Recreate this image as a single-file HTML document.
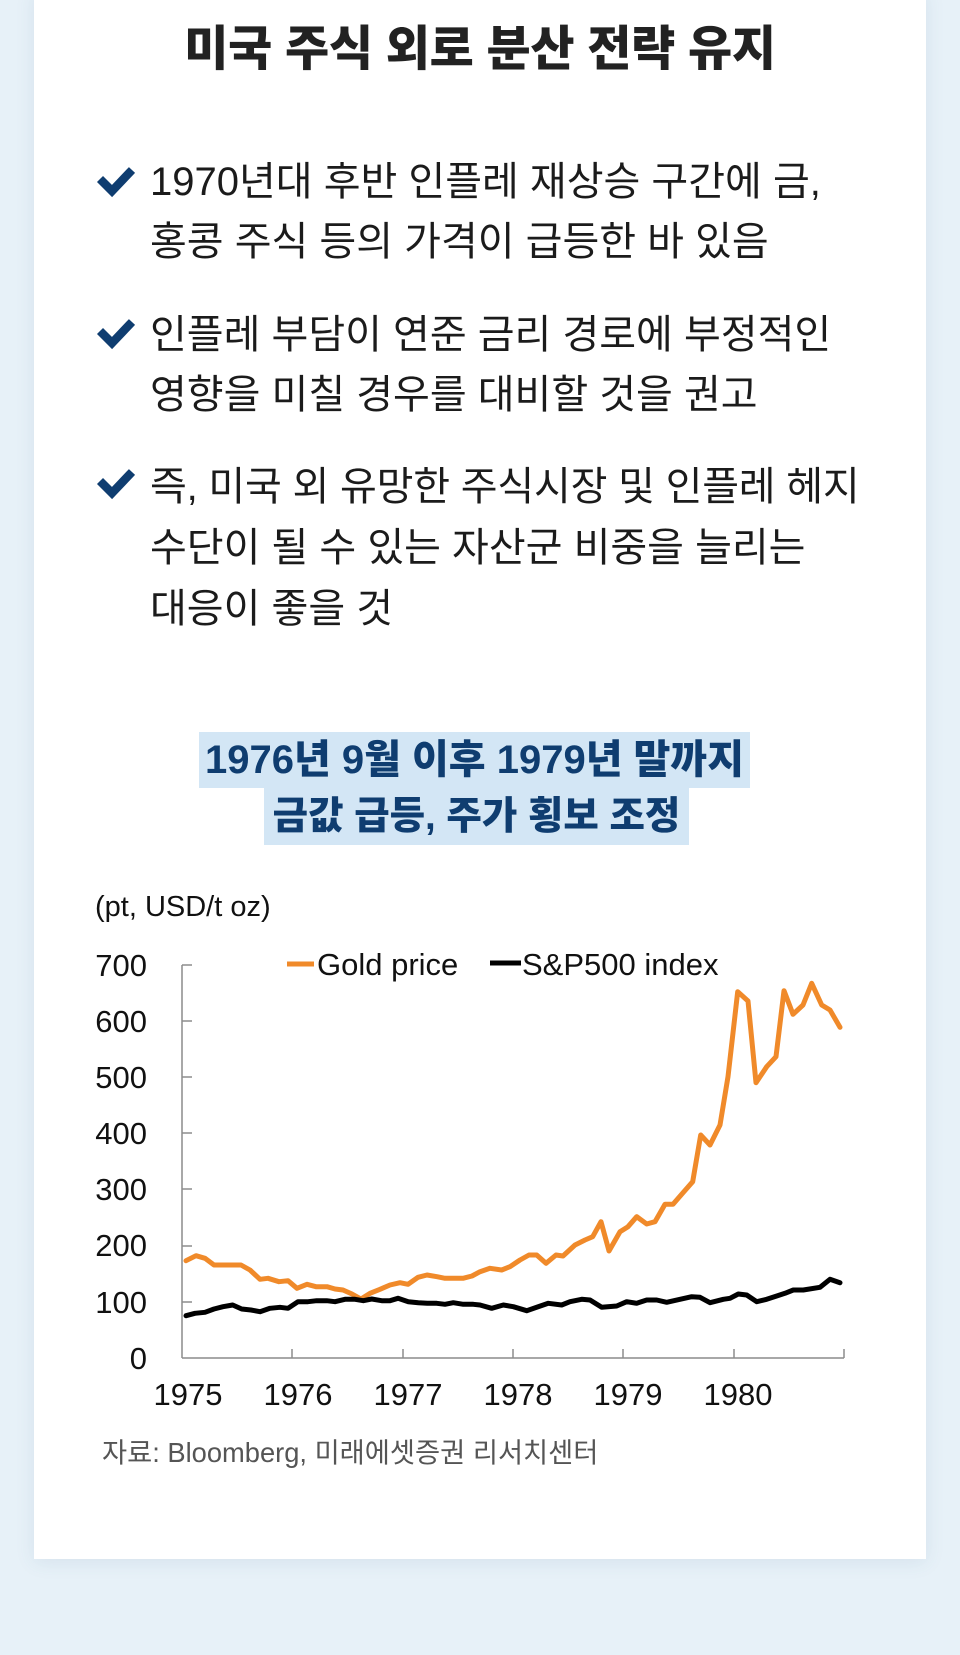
<!DOCTYPE html>
<html>
<head>
<meta charset="utf-8">
<style>
  html, body { margin:0; padding:0; }
  body { width:960px; height:1655px; background:#e7f1f8; position:relative; overflow:hidden;
         font-family:"Liberation Sans","Noto Sans CJK KR",sans-serif; }
  .card { position:absolute; left:34px; top:-10px; width:892px; height:1569px; background:#fff;
          box-shadow:0 3px 18px rgba(60,100,140,0.10); }
  .title { position:absolute; left:0; width:960px; top:20px; text-align:center; font-size:48px; line-height:60px;
           font-weight:900; color:#222; letter-spacing:-0.3px; white-space:nowrap; }
  .ln { position:absolute; left:150px; font-size:40px; line-height:60px; color:#1b1b1b; white-space:nowrap; letter-spacing:0px; }
  .hl { position:absolute; background:#d3e6f5; color:#0f3d70; font-weight:900; font-size:40px; text-align:center;
        white-space:nowrap; letter-spacing:0px; }
  .src { position:absolute; left:102px; top:1438px; font-size:27.3px; line-height:30px; color:#555; white-space:nowrap; letter-spacing:0px; }
</style>
</head>
<body>
<div class="card"></div>

<div class="title">미국 주식 외로 분산 전략 유지</div>

<svg width="960" height="700" style="position:absolute;left:0;top:0" xmlns="http://www.w3.org/2000/svg">
  <g fill="none" stroke="#0f3d70" stroke-width="8.5" stroke-linejoin="miter">
    <polyline points="100,179 112,191 132,170"/>
    <polyline points="100,331 112,343 132,322"/>
    <polyline points="100,481 112,493 132,472"/>
  </g>
</svg>

<div class="ln" style="top:152px">1970년대 후반 인플레 재상승 구간에 금,</div>
<div class="ln" style="top:212px">홍콩 주식 등의 가격이 급등한 바 있음</div>
<div class="ln" style="top:305px">인플레 부담이 연준 금리 경로에 부정적인</div>
<div class="ln" style="top:365px">영향을 미칠 경우를 대비할 것을 권고</div>
<div class="ln" style="top:457px;letter-spacing:-0.2px">즉, 미국 외 유망한 주식시장 및 인플레 헤지</div>
<div class="ln" style="top:518px">수단이 될 수 있는 자산군 비중을 늘리는</div>
<div class="ln" style="top:579px">대응이 좋을 것</div>

<div class="hl" style="left:199px;top:732px;width:551px;height:56px;line-height:56px;">1976년 9월 이후 1979년 말까지</div>
<div class="hl" style="left:264px;top:788px;width:425px;height:57px;line-height:57px;font-size:38.5px;">금값 급등, 주가 횡보 조정</div>

<svg width="960" height="1655" style="position:absolute;left:0;top:0" xmlns="http://www.w3.org/2000/svg">
  <g font-family="Liberation Sans, Arial, sans-serif" fill="#111">
    <text x="95" y="916" font-size="29">(pt, USD/t oz)</text>
    <g font-size="31" text-anchor="end">
      <text x="147" y="976">700</text>
      <text x="147" y="1032">600</text>
      <text x="147" y="1088">500</text>
      <text x="147" y="1144">400</text>
      <text x="147" y="1200">300</text>
      <text x="147" y="1256">200</text>
      <text x="147" y="1313">100</text>
      <text x="147" y="1369">0</text>
    </g>
    <g font-size="31" text-anchor="middle">
      <text x="188" y="1405">1975</text>
      <text x="298" y="1405">1976</text>
      <text x="408" y="1405">1977</text>
      <text x="518" y="1405">1978</text>
      <text x="628" y="1405">1979</text>
      <text x="738" y="1405">1980</text>
    </g>
    <text x="317" y="975" font-size="31">Gold price</text>
    <text x="522" y="975" font-size="31">S&amp;P500 index</text>
  </g>
  <line x1="287" y1="964" x2="314" y2="964" stroke="#f08a2a" stroke-width="5"/>
  <line x1="490" y1="963" x2="521" y2="963" stroke="#000" stroke-width="5"/>

  <!-- axes -->
  <g stroke="#8c8c8c" stroke-width="1.5" fill="none">
    <line x1="182" y1="965" x2="182" y2="1358"/>
    <line x1="182" y1="1358" x2="844" y2="1358"/>
    <line x1="182" y1="965" x2="192" y2="965"/>
    <line x1="182" y1="1021" x2="192" y2="1021"/>
    <line x1="182" y1="1077" x2="192" y2="1077"/>
    <line x1="182" y1="1133" x2="192" y2="1133"/>
    <line x1="182" y1="1189" x2="192" y2="1189"/>
    <line x1="182" y1="1246" x2="192" y2="1246"/>
    <line x1="182" y1="1302" x2="192" y2="1302"/>
    <line x1="292" y1="1349" x2="292" y2="1358"/>
    <line x1="403" y1="1349" x2="403" y2="1358"/>
    <line x1="513" y1="1349" x2="513" y2="1358"/>
    <line x1="623" y1="1349" x2="623" y2="1358"/>
    <line x1="734" y1="1349" x2="734" y2="1358"/>
    <line x1="844" y1="1349" x2="844" y2="1358"/>
  </g>

  <polyline fill="none" stroke="#f08a2a" stroke-width="5" stroke-linejoin="round" stroke-linecap="round"
    points="186,1260.7 196,1255.7 205,1258.3 214,1265 223,1265 232,1265 241,1265 250,1270 260,1279.3 268,1278.3 279,1281.7 288,1280.7 297,1288.3 307,1284.3 316,1286.7 327,1286.7 335,1289 343,1290 352,1294 361,1299 370,1293.3 380,1289.3 390,1285 400,1282.7 408,1284.3 418,1277.3 427,1275 437,1276.7 445,1278.3 454,1278.3 463,1278.3 472,1276 480,1271.7 490,1268.3 501.7,1270 510,1266.7 520,1260 529,1255 536.7,1255 546,1263.3 556,1255 563,1256 575,1245 585,1240 592.7,1236.7 601,1221.7 609,1251 620,1231.7 628,1226.7 636.7,1216.7 646.7,1224 655,1221.7 665,1204.3 673,1204.3 683,1192.7 692.7,1181.7 700.7,1135 710,1145 720,1125 728,1076.7 737.7,991.7 748,1001 756,1082.7 766.7,1066.7 776,1056.7 784,990.7 793,1014.3 803,1005 811.7,983.3 821.7,1005 830,1010 840,1027.3"/>

  <polyline fill="none" stroke="#000" stroke-width="5" stroke-linejoin="round" stroke-linecap="round"
    points="186,1315.7 195,1313.3 205,1312.3 214,1309 223,1306.7 232.7,1305 241.7,1309 251,1310 260,1311.7 270,1308.3 280,1307.3 288,1308.3 298,1301.7 308,1301.7 316.7,1300.7 326.7,1300.7 335,1301.7 345,1299.3 355,1299.3 363.3,1300.7 371.7,1299 381.7,1300.7 390,1300.7 398,1298.3 408.3,1301.7 418.3,1302.7 427.3,1303.3 436.7,1303.3 445,1304.3 453.3,1302.7 463.3,1304.3 473.3,1304.3 480,1305 491.7,1308.3 503.3,1305 513.3,1306.7 526.7,1310.7 536.7,1307.3 548.3,1303.3 561.7,1305 570,1301.7 581.7,1299.3 590,1300 601.7,1307.3 616.7,1306 626.7,1301.7 636.7,1303.3 646.7,1300 656.7,1300 666.7,1302.3 680,1299.3 691.7,1296.7 700,1297.3 710,1302.7 723.3,1299.3 730,1298.3 738.3,1294 746.7,1295 756.7,1301.7 766.7,1299.3 776.7,1296 785,1293.3 793.3,1290 803.3,1290 820,1287.3 830,1279.3 840,1282.7"/>
</svg>

<div class="src">자료: Bloomberg, 미래에셋증권 리서치센터</div>
</body>
</html>
